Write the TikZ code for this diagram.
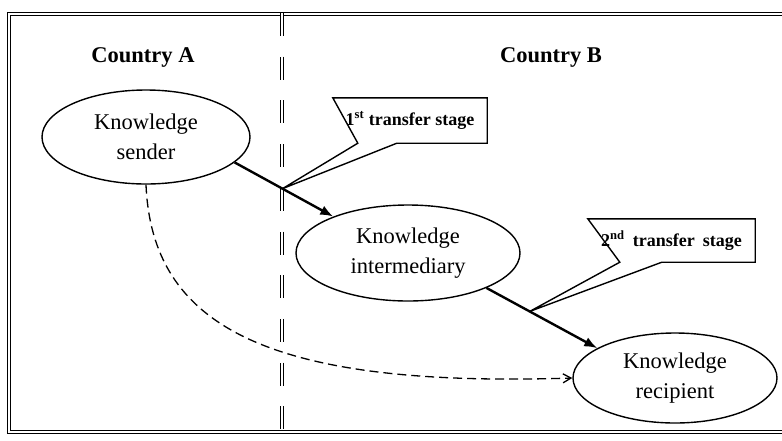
\documentclass[tikz,border=0pt]{standalone}
\usepackage{fontspec}
\setmainfont{Liberation Serif}
\usetikzlibrary{arrows.meta,calc,shapes.geometric}
\begin{document}
\begin{tikzpicture}[x=1pt,y=-1pt,
  actor/.style={ellipse,draw,line width=1.4pt,inner sep=0pt,
    minimum width=208pt,minimum height=94pt,align=center,
    font=\fontsize{22.5}{30}\selectfont},
  country/.style={font=\fontsize{22.5}{26}\selectfont\bfseries},
  stagebox/.style={inner sep=0pt,font=\fontsize{18}{22}\selectfont\bfseries},
  callout/.style={draw,line width=1.4pt,line join=miter},
  flow/.style={line width=2.4pt,-{Latex[length=13pt,width=10pt]}},
  direct/.style={line width=1.3pt,dash pattern=on 9pt off 5pt,
    -{Straight Barb[length=8pt,width=9pt,line width=1.3pt]}},
  frame/.style={double,double distance=2pt,line width=1pt},
  border/.style={double,double distance=1.6pt,line width=1.4pt,
    dash pattern=on 23pt off 20.7pt}]
\useasboundingbox (0,0) rectangle (782,440);

% outer frame (its right side runs past the page edge)
\draw[frame] (9,13.5) rectangle (800,432);

% border between the two countries
\coordinate (btop) at (282,13);
\coordinate (bbot) at (282,432);
\draw[border] (btop) -- (bbot);

% country headings
\node[country] (ca) at (143,57) {Country A};
\node[country] (cb) at (551,57) {Country B};

% actors
\node[actor] (s) at (146,137) {Knowledge\\sender};
\node[actor,minimum width=224pt,minimum height=96pt] (i) at (408,253) {Knowledge\\intermediary};
\node[actor,minimum width=204pt,minimum height=90pt] (r) at (675,378) {Knowledge\\recipient};

% transfer paths
\draw[flow] (s.-16) -- coordinate[pos=0.485] (t1) (i.154);
\draw[flow] (i.-24) -- coordinate[pos=0.39] (t2) (r.159);
\draw[direct] (s.south) .. controls (152,325) and (265,388) .. (r.west);

% stage labels with callout outlines
\node[stagebox,minimum width=154pt,minimum height=45pt] (c1) at (410,120.5)
  {1\textsuperscript{st} transfer stage};
\draw[callout] (c1.north west) -- (c1.north east) -- (c1.south east)
  -- ($(c1.south west)+(64,0)$) -- (t1) -- ($(c1.south west)+(25,0)$)
  -- cycle;

\node[stagebox,minimum width=167pt,minimum height=43pt] (c2) at (671.5,240.5)
  {2\textsuperscript{nd}\hspace{0.45em}transfer\hspace{0.45em}stage};
\draw[callout] (c2.north west) -- (c2.north east) -- (c2.south east)
  -- ($(c2.south west)+(74,0)$) -- (t2) -- ($(c2.south west)+(32,0)$)
  -- cycle;
\end{tikzpicture}
\end{document}
